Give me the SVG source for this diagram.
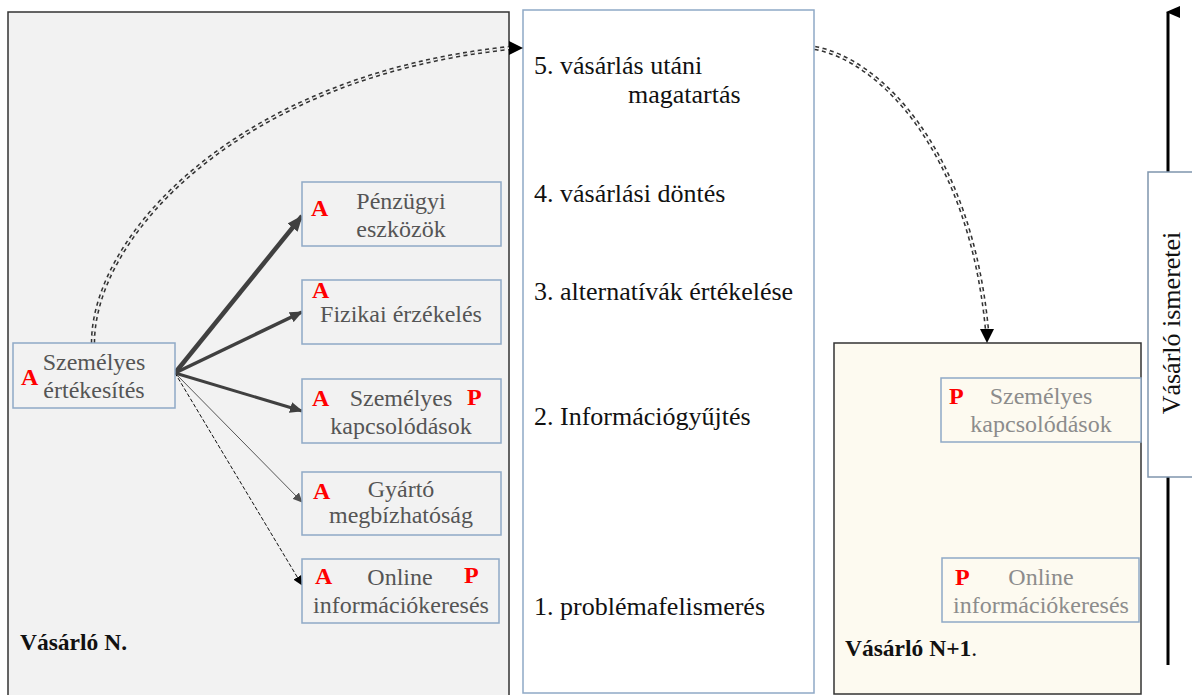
<svg xmlns="http://www.w3.org/2000/svg" width="1192" height="695" viewBox="0 0 1192 695">
<defs>
<style>
.t{font-family:"Liberation Serif","Times New Roman",serif;font-size:24px;}
.m{font-family:"Liberation Serif","Times New Roman",serif;font-size:26px;fill:#111111;}
.lt{fill:#555555;}
.rt{fill:#8c8c8c;}
.red{fill:#ff0000;font-weight:bold;}
.box{stroke:#8fa9c6;stroke-width:1.5;}
.lbl{font-family:"Liberation Serif","Times New Roman",serif;font-size:23.5px;font-weight:bold;fill:#111;}
</style>
<marker id="ah1" markerUnits="userSpaceOnUse" viewBox="0 0 16 13" refX="15" refY="6.5" markerWidth="16" markerHeight="13" orient="auto"><path d="M0,0 L16,6.5 L0,13 z" fill="#404040"/></marker>
<marker id="ah2" markerUnits="userSpaceOnUse" viewBox="0 0 13 11" refX="12" refY="5.5" markerWidth="13" markerHeight="11" orient="auto"><path d="M0,0 L13,5.5 L0,11 z" fill="#404040"/></marker>
<marker id="ah3" markerUnits="userSpaceOnUse" viewBox="0 0 10 9" refX="9" refY="4.5" markerWidth="10" markerHeight="9" orient="auto"><path d="M0,0 L10,4.5 L0,9 z" fill="#505050"/></marker>
<marker id="ah4" markerUnits="userSpaceOnUse" viewBox="0 0 10 9" refX="9" refY="4.5" markerWidth="10" markerHeight="9" orient="auto"><path d="M0,0 L10,4.5 L0,9 z" fill="#000"/></marker>
<marker id="ahv" markerUnits="userSpaceOnUse" viewBox="0 0 12 14" refX="6" refY="2" markerWidth="12" markerHeight="14" orient="auto-start-reverse"><path d="M6,0 L12,14 L0,14 z" fill="#000"/></marker>
</defs>

<g id="panel-n">
<rect x="8" y="12" width="501" height="700" fill="#f2f2f2" stroke="#333" stroke-width="1.5"/>
<text class="lbl" x="20" y="650">Vásárló N.</text>
</g>

<g id="stages">
<rect x="523" y="10" width="291" height="683" fill="#ffffff" stroke="#8fa9c6" stroke-width="1.5"/>
<text class="m" x="534" y="74">5. vásárlás utáni</text>
<text class="m" x="628" y="103">magatartás</text>
<text class="m" x="534" y="202">4. vásárlási döntés</text>
<text class="m" x="534" y="300">3. alternatívák értékelése</text>
<text class="m" x="534" y="425">2. Információgyűjtés</text>
<text class="m" x="534" y="615">1. problémafelismerés</text>
</g>

<g id="panel-n1">
<rect x="834" y="343" width="307" height="351" fill="#fdfaf0" stroke="#333" stroke-width="1.5"/>
<text class="lbl" x="845" y="656">Vásárló N+1<tspan font-weight="normal">.</tspan></text>
</g>

<g id="knowledge">
<line x1="1168" y1="665" x2="1168" y2="12" stroke="#000" stroke-width="3" marker-end="url(#ahv)"/>
<rect x="1148" y="172" width="50" height="305" fill="#ffffff" stroke="#7f95ad" stroke-width="1.5"/>
<text class="m" x="1180" y="323" text-anchor="middle" font-size="27" transform="rotate(-90 1180 323)">Vásárló ismeretei</text>
</g>

<g id="connectors">
<path d="M93,343 C93,235 240,76 510,48" fill="none" stroke="#333" stroke-width="4.5" stroke-dasharray="4 3.5"/>
<path d="M93,343 C93,235 240,76 510,48" fill="none" stroke="#f2f2f2" stroke-width="1.4" stroke-dasharray="4 3.5"/>
<path d="M509,41 L523,48 L509,55 z" fill="#000"/>
<path d="M815,48 C880,60 970,150 987,330" fill="none" stroke="#333" stroke-width="4.5" stroke-dasharray="4 3.5"/>
<path d="M815,48 C880,60 970,150 987,330" fill="none" stroke="#ffffff" stroke-width="1.4" stroke-dasharray="4 3.5"/>
<path d="M980,329 L994,329 L987,343 z" fill="#000"/>
<line x1="175" y1="373" x2="302" y2="216" stroke="#404040" stroke-width="4.5" marker-end="url(#ah1)"/>
<line x1="175" y1="373" x2="302" y2="312" stroke="#404040" stroke-width="3.5" marker-end="url(#ah2)"/>
<line x1="175" y1="373" x2="302" y2="411" stroke="#404040" stroke-width="3" marker-end="url(#ah2)"/>
<line x1="175" y1="373" x2="302" y2="502" stroke="#555" stroke-width="1" marker-end="url(#ah3)"/>
<line x1="175" y1="373" x2="302" y2="585" stroke="#111" stroke-width="1" stroke-dasharray="4 2" marker-end="url(#ah4)"/>
</g>

<g id="szemelyes-ertekesites">
<rect class="box" x="13" y="343" width="162" height="65" fill="#f2f2f2"/>
<text class="t red" x="21" y="385">A</text>
<text class="t lt" x="94" y="370" text-anchor="middle">Személyes</text>
<text class="t lt" x="94" y="398" text-anchor="middle">értékesítés</text>
</g>

<g id="penzugyi">
<rect class="box" x="302" y="182" width="199" height="64" fill="#f2f2f2"/>
<text class="t red" x="311" y="216">A</text>
<text class="t lt" x="401" y="209" text-anchor="middle">Pénzügyi</text>
<text class="t lt" x="401" y="237" text-anchor="middle">eszközök</text>
</g>

<g id="fizikai">
<rect class="box" x="302" y="280" width="199" height="64" fill="#f2f2f2"/>
<text class="t red" x="312" y="298">A</text>
<text class="t lt" x="401" y="322" text-anchor="middle">Fizikai érzékelés</text>
</g>

<g id="szemelyes-kapcs">
<rect class="box" x="302" y="379" width="199" height="64" fill="#f2f2f2"/>
<text class="t red" x="312" y="406">A</text>
<text class="t red" x="467" y="405">P</text>
<text class="t lt" x="401" y="406" text-anchor="middle">Személyes</text>
<text class="t lt" x="401" y="434" text-anchor="middle">kapcsolódások</text>
</g>

<g id="gyarto">
<rect class="box" x="302" y="472" width="199" height="63" fill="#f2f2f2"/>
<text class="t red" x="313" y="499">A</text>
<text class="t lt" x="401" y="497" text-anchor="middle">Gyártó</text>
<text class="t lt" x="401" y="523" text-anchor="middle">megbízhatóság</text>
</g>

<g id="online">
<rect class="box" x="302" y="559" width="197" height="64" fill="#f2f2f2"/>
<text class="t red" x="315" y="584">A</text>
<text class="t red" x="464" y="583">P</text>
<text class="t lt" x="400" y="585" text-anchor="middle">Online</text>
<text class="t lt" x="401" y="613" text-anchor="middle">információkeresés</text>
</g>

<g id="szemelyes-kapcs-n1">
<rect class="box" x="941" y="378" width="200" height="64" fill="#fdfaf0"/>
<text class="t red" x="949" y="404">P</text>
<text class="t rt" x="1041" y="404" text-anchor="middle">Személyes</text>
<text class="t rt" x="1041" y="432" text-anchor="middle">kapcsolódások</text>
</g>

<g id="online-n1">
<rect class="box" x="942" y="558" width="197" height="64" fill="#fdfaf0"/>
<text class="t red" x="955" y="585">P</text>
<text class="t rt" x="1041" y="585" text-anchor="middle">Online</text>
<text class="t rt" x="1041" y="613" text-anchor="middle">információkeresés</text>
</g>
</svg>
